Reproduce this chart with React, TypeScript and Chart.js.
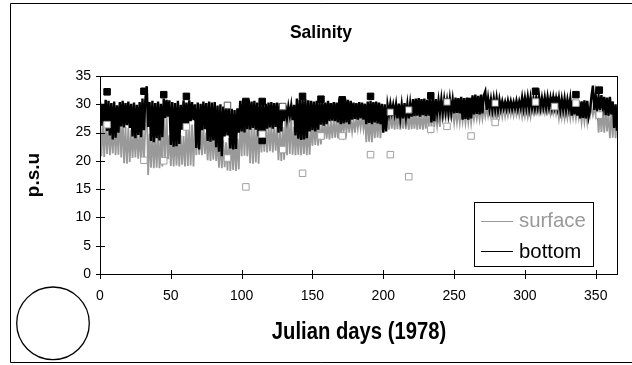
import React, { useEffect, useRef } from "react";
import { Chart, registerables } from "chart.js";

Chart.register(...registerables);

// Daily salinity (index = Julian day 0..365), zig-zag of the tidal band
const bottomSalinity: number[] = [
  30.4, 26.2, 30.1, 26.8, 30.8, 25.3, 30.6, 24.5, 30.2, 23.8,
  30.5, 24.1, 29.8, 25.0, 30.4, 26.1, 30.6, 25.9, 30.2, 26.3,
  30.5, 25.8, 30.1, 24.3, 30.3, 24.0, 29.9, 24.6, 30.4, 24.2,
  31.0, 25.4, 30.8, 33.2, 26.0, 30.4, 23.5, 30.6, 23.3, 30.2,
  24.0, 30.5, 23.6, 30.1, 24.2, 31.0, 27.6, 30.8, 27.8, 30.7,
  22.8, 30.4, 22.5, 30.2, 22.6, 30.6, 23.0, 29.9, 25.5, 30.7,
  25.8, 30.3, 25.6, 30.7, 27.0, 30.4, 27.2, 30.0, 22.3, 30.3,
  22.0, 30.1, 25.4, 30.5, 25.6, 30.2, 23.5, 30.5, 23.4, 30.3,
  23.6, 30.4, 22.4, 29.8, 21.6, 30.0, 20.8, 29.6, 24.3, 29.5,
  24.5, 29.4, 22.2, 29.2, 22.0, 29.0, 22.1, 29.3, 25.0, 30.6,
  25.2, 30.8, 25.0, 30.7, 25.6, 30.8, 25.5, 30.5, 25.8, 30.6,
  25.5, 30.3, 24.3, 30.2, 24.5, 30.4, 24.3, 30.1, 25.7, 30.3,
  25.9, 30.4, 25.7, 30.2, 26.0, 30.3, 25.0, 30.2, 25.2, 30.0,
  27.0, 29.8, 27.5, 29.6, 28.0, 29.8, 27.2, 29.9, 24.5, 31.0,
  23.9, 30.8, 23.7, 31.2, 23.8, 30.9, 24.0, 30.7, 25.2, 30.6,
  25.4, 30.5, 25.2, 30.6, 25.5, 30.4, 26.4, 30.5, 26.2, 30.3,
  26.5, 30.6, 27.0, 30.2, 27.1, 30.4, 27.0, 30.3, 26.8, 31.0,
  26.5, 30.9, 26.6, 31.1, 26.8, 30.8, 26.5, 30.6, 27.3, 30.3,
  27.4, 30.2, 27.3, 30.4, 27.5, 30.3, 27.3, 30.1, 26.5, 30.5,
  26.7, 30.6, 26.5, 30.4, 26.8, 30.5, 26.6, 30.3, 26.5, 30.1,
  25.0, 30.0, 25.2, 29.9, 28.3, 30.1, 28.5, 29.9, 28.3, 30.0,
  27.5, 30.1, 27.6, 29.9, 27.5, 30.2, 27.8, 30.0, 27.5, 30.1,
  27.8, 30.9, 27.9, 31.0, 28.0, 31.1, 27.8, 30.9, 28.1, 31.0,
  27.9, 30.8, 28.0, 31.1, 26.8, 31.0, 27.0, 30.9, 28.5, 30.7,
  28.6, 30.9, 28.5, 30.8, 28.7, 30.6, 28.5, 30.9, 28.6, 30.8,
  28.4, 31.2, 28.5, 31.1, 28.4, 31.3, 27.3, 31.1, 27.4, 31.2,
  27.3, 31.0, 27.5, 31.6, 28.2, 31.7, 28.3, 31.5, 28.2, 31.7,
  28.4, 31.6, 32.3, 29.0, 31.1, 29.2, 30.9, 29.0, 31.0, 29.1,
  31.1, 29.0, 30.8, 29.2, 30.5, 29.3, 30.4, 29.2, 30.6, 29.3,
  30.5, 29.2, 30.4, 29.3, 30.6, 29.2, 30.5, 29.4, 31.2, 29.3,
  31.1, 29.4, 31.3, 29.3, 31.2, 29.4, 31.0, 29.3, 31.2, 29.5,
  31.3, 29.4, 31.1, 29.5, 31.2, 29.4, 31.3, 29.5, 31.1, 29.4,
  31.2, 29.5, 31.0, 29.4, 31.1, 29.0, 30.9, 29.1, 31.0, 29.0,
  30.8, 29.2, 31.0, 28.0, 30.8, 28.2, 30.7, 28.0, 30.6, 27.5,
  30.5, 27.6, 30.7, 27.5, 30.6, 27.8, 29.0, 31.5, 33.3, 29.0,
  31.5, 29.1, 31.4, 29.0, 31.6, 29.2, 31.3, 28.1, 31.2, 28.0,
  31.3, 28.2, 30.5, 25.8, 30.0, 25.3,
];

const surfaceSalinity: number[] = [
  26.8, 20.8, 27.0, 20.7, 26.5, 21.2, 26.4, 21.0, 25.8, 21.3,
  26.5, 21.0, 26.2, 21.1, 28.0, 20.6, 27.5, 19.6, 26.0, 19.5,
  25.8, 19.8, 25.5, 20.5, 25.3, 20.6, 25.6, 20.4, 25.2, 20.1,
  26.0, 20.0, 25.8, 30.0, 17.5, 24.8, 18.8, 25.0, 18.7, 24.6,
  18.8, 25.0, 18.7, 24.5, 19.0, 28.5, 20.0, 28.2, 20.3, 24.5,
  19.1, 24.3, 19.0, 24.6, 19.2, 24.2, 19.0, 24.5, 19.3, 24.4,
  19.0, 26.5, 19.1, 26.3, 19.2, 26.4, 19.0, 26.5, 21.0, 26.2,
  21.1, 26.5, 21.0, 26.3, 21.2, 25.0, 20.1, 24.8, 20.0, 25.0,
  20.2, 24.7, 20.0, 23.5, 18.8, 23.4, 18.7, 23.6, 18.9, 23.3,
  18.3, 24.0, 18.2, 23.8, 18.4, 24.0, 18.2, 23.9, 18.5, 27.5,
  20.8, 27.3, 20.9, 27.5, 20.8, 26.5, 19.6, 26.3, 19.5, 26.4,
  19.7, 26.5, 19.5, 26.2, 21.5, 26.5, 21.6, 26.4, 21.5, 26.3,
  21.7, 26.5, 21.5, 26.4, 21.8, 26.0, 20.1, 25.8, 20.0, 26.0,
  20.2, 28.3, 21.0, 28.1, 21.2, 28.0, 21.1, 26.0, 21.0, 25.8,
  21.1, 26.0, 21.0, 25.9, 21.2, 26.0, 21.0, 25.8, 21.1, 26.1,
  22.7, 26.5, 22.8, 26.4, 22.7, 26.5, 22.9, 27.0, 23.8, 26.8,
  23.9, 27.0, 23.8, 27.1, 24.0, 27.5, 24.1, 27.4, 24.0, 27.5,
  24.2, 27.5, 25.0, 27.4, 25.1, 27.6, 25.0, 27.5, 25.2, 27.3,
  25.0, 27.8, 25.7, 27.7, 25.8, 27.9, 25.7, 27.8, 23.3, 28.0,
  23.4, 27.9, 23.3, 28.0, 24.0, 27.8, 24.1, 28.0, 24.0, 27.9,
  25.5, 28.3, 25.6, 28.2, 25.5, 28.3, 25.7, 28.1, 25.5, 28.3,
  25.6, 28.5, 25.5, 28.4, 25.7, 28.5, 25.6, 28.3, 25.5, 28.5,
  25.6, 28.4, 25.7, 28.5, 25.5, 28.6, 25.6, 28.4, 25.5, 28.5,
  25.7, 28.5, 26.0, 28.4, 26.1, 28.6, 26.0, 28.5, 26.2, 28.4,
  26.0, 29.0, 27.3, 28.9, 27.4, 29.1, 27.3, 28.9, 27.5, 29.0,
  26.7, 29.0, 26.8, 28.9, 26.7, 29.1, 26.9, 28.8, 26.7, 29.0,
  26.8, 29.1, 26.7, 29.2, 27.3, 29.1, 27.4, 29.2, 27.3, 29.3,
  27.4, 29.2, 27.8, 29.5, 27.9, 29.4, 27.8, 29.6, 27.9, 29.5,
  27.8, 29.4, 27.9, 29.5, 27.8, 29.6, 27.9, 29.5, 28.0, 29.4,
  28.1, 29.5, 28.0, 29.6, 28.1, 29.4, 28.0, 29.5, 27.8, 29.5,
  27.9, 29.4, 27.8, 29.6, 27.9, 30.0, 28.5, 29.9, 28.6, 30.0,
  28.5, 29.9, 28.6, 30.0, 28.5, 29.9, 28.6, 29.8, 28.3, 29.7,
  28.4, 29.8, 28.3, 29.7, 27.5, 29.5, 27.6, 29.4, 27.5, 29.5,
  27.6, 29.4, 27.5, 29.5, 27.6, 29.4, 27.5, 29.5, 27.6, 29.2,
  26.8, 29.1, 26.9, 29.2, 26.8, 29.1, 28.0, 29.5, 28.1, 29.4,
  28.0, 29.5, 25.0, 29.0, 25.1, 28.9, 25.0, 29.0, 25.2, 28.5,
  24.0, 28.4, 24.1, 28.5, 24.0, 28.3,
];

// Bottom observations (filled black squares)
const bottomObsDays = [5, 31, 45, 61, 103, 114.5, 114.5, 143, 156, 171, 191, 233.5, 262, 307.5, 321, 336, 352.5];
const bottomObsValues = [32.2, 32.3, 31.7, 31.4, 30.5, 30.5, 23.6, 31.4, 30.9, 30.8, 31.4, 31.5, 30.5, 32.3, 30.7, 31.7, 32.5];

// Bottom observations drawn as open squares with dark outline
const bottomOpenDays = [90, 129, 205, 218, 245, 279];
const bottomOpenValues = [29.8, 29.6, 28.6, 29.0, 30.4, 30.2];

// Surface observations (open grey squares)
const surfaceObsDays = [5, 31, 45, 61, 90, 103, 114.5, 129, 143, 156, 171, 191, 205, 218, 233.5, 245, 262, 279, 307.5, 321, 336, 352.5];
const surfaceObsValues = [26.4, 20.1, 20.0, 26.0, 20.5, 15.4, 24.7, 22.0, 17.8, 24.4, 24.4, 21.1, 21.1, 17.2, 25.6, 26.1, 24.4, 26.8, 30.4, 29.6, 30.2, 28.1];

const xTickValues = [0, 50, 100, 150, 200, 250, 300, 350];
const yTickValues = [0, 5, 10, 15, 20, 25, 30, 35];

const FONT = "'Liberation Sans', Arial, sans-serif";
const GREY = "#999999";

function drawText(
  ctx: CanvasRenderingContext2D,
  s: string,
  x: number,
  y: number,
  font: string,
  color: string,
  align: CanvasTextAlign,
  sx = 1,
  rot = 0
) {
  ctx.save();
  ctx.translate(x, y);
  if (rot) ctx.rotate(rot);
  ctx.scale(sx, 1);
  ctx.font = font;
  ctx.fillStyle = color;
  ctx.textAlign = align;
  ctx.textBaseline = "alphabetic";
  ctx.fillText(s, 0, 0);
  ctx.restore();
}

const decorPlugin = {
  id: "decor",
  afterDraw(chart: any) {
    const ctx: CanvasRenderingContext2D = chart.ctx;
    const { left, right, top, bottom } = chart.chartArea;
    const xs = chart.scales.x;
    const ys = chart.scales.y;
    ctx.save();
    ctx.strokeStyle = "#000";
    ctx.lineWidth = 1;
    // plot frame
    ctx.strokeRect(Math.round(left) + 0.5, Math.round(top) + 0.5, Math.round(right - left), Math.round(bottom - top));
    // crossing tick marks
    ctx.beginPath();
    for (const v of yTickValues) {
      const py = Math.round(ys.getPixelForValue(v)) + 0.5;
      ctx.moveTo(left - 4, py);
      ctx.lineTo(left + 5, py);
    }
    for (const v of xTickValues) {
      const px = Math.round(xs.getPixelForValue(v)) + 0.5;
      ctx.moveTo(px, bottom - 4);
      ctx.lineTo(px, bottom + 5);
    }
    ctx.stroke();

    // outer border
    ctx.beginPath();
    ctx.moveTo(632, 3.5);
    ctx.lineTo(10.5, 3.5);
    ctx.lineTo(10.5, 362.5);
    ctx.lineTo(632, 362.5);
    ctx.stroke();

    // circle decoration
    ctx.beginPath();
    ctx.lineWidth = 1.3;
    ctx.arc(53, 323.3, 36.3, 0, Math.PI * 2);
    ctx.stroke();

    // legend
    ctx.lineWidth = 1;
    ctx.fillStyle = "#fff";
    ctx.fillRect(474.5, 202.5, 119, 64);
    ctx.strokeStyle = "#000";
    ctx.strokeRect(474.5, 202.5, 119, 64);
    ctx.beginPath();
    ctx.strokeStyle = GREY;
    ctx.moveTo(481, 221.5);
    ctx.lineTo(513, 221.5);
    ctx.stroke();
    ctx.beginPath();
    ctx.strokeStyle = "#000";
    ctx.moveTo(481, 251.5);
    ctx.lineTo(513, 251.5);
    ctx.stroke();
    drawText(ctx, "surface", 519, 227, `21px ${FONT}`, GREY, "left", 0.97);
    drawText(ctx, "bottom", 519, 258, `21px ${FONT}`, "#000", "left", 0.97);

    // titles
    drawText(ctx, "Salinity", 321, 38, `bold 19px ${FONT}`, "#000", "center", 0.92);
    drawText(ctx, "Julian days (1978)", 359, 339, `bold 23px ${FONT}`, "#000", "center", 0.88);
    drawText(ctx, "p.s.u", 39, 175, `bold 19px ${FONT}`, "#000", "center", 1, -Math.PI / 2);
    ctx.restore();
  },
};

export default function App() {
  const ref = useRef<HTMLCanvasElement>(null);
  useEffect(() => {
    const line = (arr: number[]) => arr.map((v, i) => ({ x: i, y: v }));
    const pts = (d: number[], v: number[]) => d.map((x, i) => ({ x, y: v[i] }));
    const chart = new Chart(ref.current as HTMLCanvasElement, {
      type: "line",
      data: {
        datasets: [
          {
            label: "surface",
            data: line(surfaceSalinity),
            borderColor: GREY,
            borderWidth: 1.8,
            pointRadius: 0,
            tension: 0,
            borderJoinStyle: "miter",
            order: 5,
          },
          {
            label: "bottom",
            data: line(bottomSalinity),
            borderColor: "#000",
            borderWidth: 2.4,
            pointRadius: 0,
            tension: 0,
            borderJoinStyle: "miter",
            order: 4,
          },
          {
            label: "bottom obs",
            data: pts(bottomObsDays, bottomObsValues),
            showLine: false,
            pointStyle: "rect",
            pointRadius: 4.6,
            backgroundColor: "#000",
            borderColor: "#000",
            borderWidth: 1,
            order: 3,
          },
          {
            label: "bottom obs open",
            data: pts(bottomOpenDays, bottomOpenValues),
            showLine: false,
            pointStyle: "rect",
            pointRadius: 4.6,
            backgroundColor: "#fff",
            borderColor: "#555",
            borderWidth: 1,
            order: 2,
          },
          {
            label: "surface obs",
            data: pts(surfaceObsDays, surfaceObsValues),
            showLine: false,
            pointStyle: "rect",
            pointRadius: 4.6,
            backgroundColor: "#fff",
            borderColor: "#a0a0a0",
            borderWidth: 1,
            order: 1,
          },
        ],
      } as any,
      options: {
        animation: false,
        responsive: false,
        devicePixelRatio: 1,
        events: [],
        layout: { padding: { left: 0, right: 15, top: 76, bottom: 0 } },
        plugins: {
          legend: { display: false },
          tooltip: { enabled: false },
          title: { display: false },
        },
        scales: {
          x: {
            type: "linear",
            min: 0,
            max: 365,
            afterFit: (s: any) => {
              s.height = 91;
            },
            afterBuildTicks: (s: any) => {
              s.ticks = xTickValues.map((v) => ({ value: v }));
            },
            ticks: {
              font: { family: FONT, size: 14 },
              color: "#000",
              padding: 14,
              maxRotation: 0,
            },
            grid: { display: false, drawTicks: false },
            border: { display: false },
          },
          y: {
            type: "linear",
            min: 0,
            max: 35,
            afterFit: (s: any) => {
              s.width = 100;
            },
            afterBuildTicks: (s: any) => {
              s.ticks = yTickValues.map((v) => ({ value: v }));
            },
            ticks: {
              font: { family: FONT, size: 14 },
              color: "#000",
              padding: 9,
            },
            grid: { display: false, drawTicks: false },
            border: { display: false },
          },
        },
      } as any,
      plugins: [decorPlugin],
    });
    return () => chart.destroy();
  }, []);
  return (
    <div style={{ position: "absolute", left: 0, top: 0, width: 632, height: 365, background: "#fff" }}>
      <canvas ref={ref} width={632} height={365} style={{ display: "block", width: 632, height: 365 }} />
    </div>
  );
}
